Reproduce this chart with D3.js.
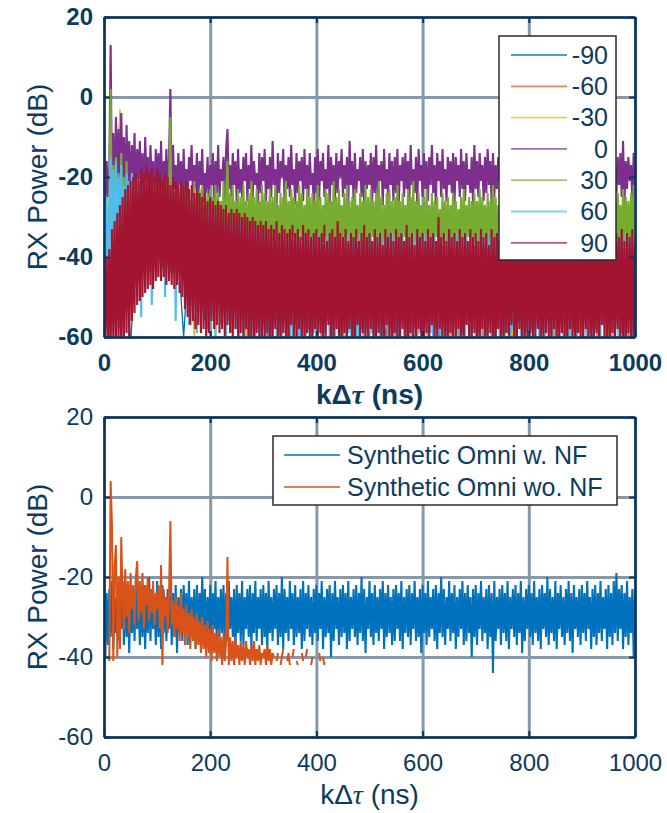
<!DOCTYPE html>
<html><head><meta charset="utf-8">
<script src="https://cdn.jsdelivr.net/npm/d3@7"></script>
<style>body{margin:0;background:#fff}svg{display:block}</style>
</head><body>
<svg id="chart" width="667" height="813"></svg>
<script>
// ---------- DATA ----------
const xTicks = [0, 200, 400, 600, 800, 1000];
const yTicks = [-60, -40, -20, 0, 20];
const topNames = ["-90", "-60", "-30", "0", "30", "60", "90"];
const botNames = ["Synthetic Omni w. NF", "Synthetic Omni wo. NF"];

// sample spacing (ns): dense series every 2.5 ns, weak series every 10 ns
const fineStep = 2.5, coarseStep = 10;

const s_m90 = [-38,-60,-35,-58,-37,-62,-40,-44,-38,-42, -39,-41,-37,-43,-40,-60,-38,-47,-39,-56,
 -37,-52,-40,-58,-38,-55,-41,-60,-39,-57, -40,-62,-38,-59,-41,-61,-39,-58,-40,-63,
 -38,-60,-41,-62,-39,-59,-40,-61,-38,-64, -41,-60,-39,-62,-40,-58,-38,-63,-41,-59,
 -39,-61,-40,-64,-38,-60,-41,-62,-39,-58, -40,-63,-38,-61,-41,-59,-39,-62,-40,-60,
 -38,-64,-41,-60,-39,-62,-40,-58,-38,-61, -41,-63,-39,-60,-40,-62,-38,-59,-41,-61, -40];
const s_m60 = [-36,-56,-40,-4,-39,-52,-37,-41,-40,-43, -38,-40,-41,-44,-39,-42,-40,-58,-38,-50,
 -41,-55,-39,-59,-40,-56,-38,-61,-41,-58, -39,-60,-40,-63,-38,-59,-41,-62,-39,-60,
 -40,-61,-38,-64,-41,-60,-39,-62,-40,-59, -38,-63,-41,-60,-39,-61,-40,-64,-38,-60,
 -41,-62,-39,-58,-40,-63,-38,-61,-41,-60, -39,-64,-40,-59,-38,-62,-41,-60,-39,-63,
 -40,-61,-38,-59,-41,-64,-39,-60,-40,-62, -38,-58,-41,-63,-39,-61,-40,-60,-38,-64, -41];
const s_m30 = [-37,-61,-36,-3,-38,-45,-40,-42,-37,-44, -39,-41,-38,-43,-40,-44,-37,-60,-39,-46,
 -38,-60,-40,-53,-39,-58,-41,-62,-38,-56, -40,-59,-39,-63,-41,-60,-38,-62,-40,-58,
 -39,-64,-41,-61,-38,-59,-40,-63,-39,-60, -41,-62,-38,-58,-40,-64,-39,-61,-41,-60,
 -38,-63,-40,-59,-39,-62,-41,-60,-38,-64, -40,-61,-39,-58,-41,-63,-38,-60,-40,-62,
 -39,-59,-41,-64,-38,-61,-40,-60,-39,-63, -41,-62,-38,-59,-40,-61,-39,-64,-41,-60, -38];

const s_0 = [
 -14,-27,-16,-25,-18,13,-24,-9,-26,-5,-22,-8,-25,-4,-21,-10,-26,-7,-23,-11,
 -25,-12,-22,-9,-26,-13,-20,-11,-24,-14,-27,-10,-21,-15,-25,-12,-23,-16,-26,-13,
 -22,-14,-25,-11,-27,-16,-21,-13,-24,-15,2,-26,-12,-23,-17,-25,-14,-22,-16,-27,
 -13,-24,-18,-26,-15,-21,-12,-25,-17,-23,-14,-27,-16,-22,-13,-26,-19,-24,-15,-25,
 -17,-22,-14,-27,-16,-24,-12,-25,-18,-21,-15,-26,-13,-8,-23,-17,-25,-14,-22,-16,
 -27,-13,-24,-18,-25,-15,-21,-14,-26,-17,-23,-12,-25,-16,-22,-19,-27,-14,-24,-15,
 -21,-13,-26,-17,-23,-15,-25,-11,-22,-18,-27,-14,-24,-16,-20,-13,-26,-17,-23,-15,
 -25,-12,-22,-18,-27,-14,-24,-16,-21,-15,-26,-13,-23,-17,-25,-14,-22,-19,-27,-15,
 -24,-13,-26,-16,-21,-14,-25,-18,-23,-12,-27,-15,-22,-17,-26,-14,-24,-16,-20,-13,
 -25,-17,-23,-15,-27,-11,-22,-16,-26,-14,-24,-18,-21,-15,-25,-13,-27,-16,-23,-17,
 -22,-14,-26,-15,-24,-12,-25,-17,-21,-16,-27,-13,-23,-18,-25,-14,-22,-16,-26,-15,
 -24,-13,-27,-17,-21,-15,-25,-14,-23,-16,-26,-12,-22,-18,-24,-15,-27,-13,-21,-17,
 -25,-14,-23,-16,-26,-15,-22,-12,-24,-17,-27,-14,-21,-16,-25,-13,-23,-18,-26,-15,
 -22,-16,-24,-14,-27,-15,-21,-17,-25,-13,-23,-16,-26,-14,-22,-18,-24,-15,-27,-12,
 -23,-16,-25,-14,-21,-17,-26,-15,-24,-13,-22,-16,-27,-14,-25,-17,-23,-15,-21,-13,
 -26,-16,-24,-14,-22,-18,-25,-15,-27,-13,-23,-16,-21,-14,-26,-17,-24,-15,-22,-13,
 -25,-16,-27,-14,-23,-17,-21,-15,-26,-12,-24,-16,-22,-14,-25,-18,-27,-15,-23,-14,
 -21,-16,-26,-13,-24,-17,-22,-15,-25,-14,-27,-16,-23,-12,-21,-17,-26,-15,-24,-14,
 -22,-16,-25,-13,-27,-17,-23,-15,-21,-14,-26,-16,-24,-12,-22,-17,-25,-15,-27,-14,
 -23,-16,-21,-13,-26,-17,-24,-15,-22,-14,-25,-11,-27,-16,-23,-15,-21,-17,-26,-14,
 -24];
const s_30 = [
 -27,-40,-30,-38,-28,2,-39,-17,-36,-15,-38,-19,-35,-14,-39,-20,-37,-16,-40,-21,
 -36,-23,-39,-22,-37,-25,-40,-21,-35,-24,-38,-22,-36,-26,-39,-23,-37,-21,-40,-24,
 -36,-22,-38,-25,-35,-23,-39,-21,-37,-24,-5,-40,-22,-36,-26,-38,-23,-35,-25,-39,
 -22,-37,-24,-40,-23,-36,-26,-38,-21,-35,-25,-39,-23,-37,-22,-40,-26,-36,-24,-38,
 -23,-35,-25,-39,-22,-37,-24,-36,-26,-40,-21,-38,-25,-16,-35,-24,-39,-22,-37,-26,
 -36,-23,-40,-25,-38,-22,-35,-26,-39,-24,-37,-21,-36,-25,-40,-23,-38,-26,-35,-22,
 -39,-24,-37,-26,-36,-23,-40,-25,-38,-22,-35,-27,-39,-24,-37,-25,-36,-21,-40,-26,
 -38,-23,-35,-25,-39,-26,-37,-22,-36,-24,-40,-27,-38,-23,-35,-25,-39,-24,-37,-26,
 -36,-22,-40,-25,-38,-27,-35,-23,-39,-24,-37,-26,-36,-21,-40,-25,-38,-23,-35,-27,
 -39,-24,-37,-22,-36,-26,-40,-25,-38,-23,-35,-27,-39,-24,-37,-26,-36,-22,-40,-25,
 -38,-23,-35,-26,-39,-24,-37,-21,-36,-25,-40,-27,-38,-24,-35,-23,-39,-26,-37,-25,
 -36,-22,-40,-26,-38,-24,-35,-27,-39,-23,-37,-25,-36,-21,-40,-26,-38,-24,-35,-27,
 -39,-25,-37,-23,-36,-27,-40,-24,-38,-26,-35,-25,-39,-28,-37,-24,-36,-26,-40,-25,
 -38,-27,-35,-24,-39,-26,-37,-28,-36,-25,-40,-23,-38,-27,-35,-25,-39,-26,-37,-24,
 -36,-26,-40,-23,-38,-25,-35,-27,-39,-24,-37,-26,-36,-22,-40,-25,-38,-27,-35,-24,
 -39,-25,-37,-23,-36,-26,-40,-24,-38,-27,-35,-25,-39,-23,-37,-26,-36,-24,-40,-25,
 -38,-22,-35,-26,-39,-24,-37,-25,-36,-27,-40,-23,-38,-25,-35,-26,-39,-24,-37,-21,
 -36,-25,-40,-26,-38,-23,-35,-27,-39,-24,-37,-26,-36,-25,-40,-23,-38,-26,-35,-24,
 -39,-27,-37,-23,-36,-25,-40,-26,-38,-24,-35,-22,-39,-26,-37,-25,-36,-27,-40,-24,
 -38,-23,-35,-26,-39,-25,-37,-24,-36,-27,-40,-23,-38,-25,-35,-26,-39,-24,-37,-22,
 -36];
const s_60 = [
 -28,-46,-25,-50,-30,-15,-52,-18,-55,-16,-48,-20,-57,-17,-50,-22,-54,-19,-47,-21,
 -44,-19,-42,-23,-45,-21,-41,-24,-55,-22,-43,-25,-40,-21,-44,-23,-52,-24,-42,-22,
 -45,-25,-41,-23,-43,-26,-50,-24,-40,-25,-44,-27,-42,-24,-56,-26,-43,-25,-41,-27,
 -44,-26,-46,-28,-57,-27,-45,-29,-48,-28,-59,-27,-47,-30,-53,-29,-46,-31,-58,-28,
 -50,-30,-55,-29,-60,-31,-52,-30,-57,-32,-54,-31,-61,-30,-56,-32,-59,-31,-53,-33,
 -58,-32,-62,-31,-55,-33,-60,-32,-57,-34,-63,-33,-56,-32,-61,-34,-58,-33,-62,-35,
 -57,-34,-61,-35,-59,-33,-63,-36,-56,-34,-60,-35,-58,-37,-62,-34,-57,-36,-64,-35,
 -59,-33,-61,-36,-57,-35,-63,-34,-60,-37,-56,-35,-62,-34,-58,-36,-64,-35,-59,-37,
 -61,-34,-57,-36,-63,-35,-59,-38,-56,-34,-62,-36,-60,-35,-64,-37,-58,-34,-61,-36,
 -57,-35,-63,-37,-59,-34,-62,-36,-56,-35,-60,-38,-64,-34,-58,-36,-61,-35,-57,-37,
 -63,-34,-59,-36,-62,-35,-57,-37,-60,-34,-64,-36,-58,-35,-61,-38,-56,-34,-62,-36,
 -59,-35,-64,-37,-57,-34,-61,-36,-58,-35,-63,-37,-60,-34,-56,-36,-62,-35,-59,-38,
 -61,-34,-57,-36,-64,-35,-59,-37,-62,-34,-58,-36,-60,-35,-63,-37,-57,-34,-61,-36,
 -58,-35,-62,-37,-56,-34,-60,-36,-64,-35,-59,-38,-61,-34,-57,-36,-63,-35,-58,-37,
 -62,-34,-59,-36,-57,-35,-63,-37,-60,-34,-56,-36,-61,-35,-64,-38,-58,-34,-62,-36,
 -57,-35,-61,-37,-59,-34,-64,-36,-58,-35,-62,-37,-56,-34,-60,-36,-63,-35,-59,-38,
 -63,-34,-58,-36,-61,-35,-57,-37,-64,-34,-59,-36,-62,-35,-56,-37,-60,-34,-63,-36,
 -59,-35,-62,-37,-57,-34,-61,-36,-58,-35,-64,-38,-60,-34,-57,-36,-62,-35,-59,-37,
 -61,-34,-56,-36,-63,-35,-59,-37,-62,-34,-58,-36,-64,-35,-60,-37,-57,-34,-61,-36,
 -58,-35,-63,-37,-60,-34,-57,-36,-62,-35,-59,-38,-64,-34,-61,-36,-56,-35,-62,-37,
 -60];
const s_90 = [
 -39,-62,-40,-60,-38,-64,-33,-61,-31,-63,-29,-60,-27,-64,-25,-62,-23,-59,-22,-61,
 -21,-56,-20,-54,-19,-52,-20,-51,-18,-50,-19,-49,-17,-48,-19,-47,-18,-48,-20,-46,
 -18,-45,-19,-46,-21,-45,-19,-47,-20,-46,-22,-47,-20,-48,-21,-47,-22,-49,-21,-50,
 -22,-53,-21,-55,-23,-57,-22,-56,-24,-58,-23,-57,-24,-59,-25,-58,-24,-60,-26,-59,
 -25,-56,-26,-58,-27,-57,-26,-59,-27,-58,-28,-60,-27,-57,-29,-59,-28,-61,-29,-58,
 -28,-60,-29,-59,-30,-62,-29,-58,-30,-61,-31,-60,-30,-63,-31,-59,-32,-61,-31,-60,
 -32,-62,-31,-59,-33,-61,-32,-63,-33,-58,-31,-60,-34,-62,-32,-59,-33,-61,-34,-63,
 -33,-57,-32,-60,-34,-62,-33,-58,-35,-61,-32,-63,-34,-59,-33,-60,-35,-62,-34,-58,
 -33,-61,-35,-59,-34,-63,-32,-60,-36,-57,-34,-62,-33,-60,-35,-58,-31,-61,-34,-63,
 -35,-59,-33,-62,-36,-58,-34,-60,-35,-63,-33,-57,-36,-61,-34,-59,-32,-62,-35,-60,
 -34,-58,-36,-61,-33,-63,-35,-59,-34,-60,-37,-62,-33,-57,-35,-61,-34,-64,-36,-59,
 -33,-60,-35,-62,-34,-58,-36,-61,-32,-63,-35,-59,-34,-60,-37,-62,-33,-58,-35,-61,
 -34,-63,-36,-59,-33,-61,-35,-57,-34,-62,-36,-60,-30,-58,-35,-63,-34,-60,-36,-61,
 -33,-59,-35,-62,-34,-60,-36,-58,-33,-63,-35,-61,-34,-57,-36,-60,-33,-62,-35,-59,
 -34,-61,-36,-63,-33,-58,-35,-60,-34,-62,-37,-59,-33,-61,-35,-64,-34,-58,-36,-60,
 -33,-62,-35,-59,-34,-61,-36,-57,-33,-60,-35,-63,-34,-58,-36,-62,-31,-60,-35,-61,
 -34,-59,-36,-62,-33,-60,-35,-58,-34,-63,-36,-61,-33,-59,-35,-60,-34,-62,-37,-58,
 -35,-61,-33,-63,-36,-59,-34,-60,-35,-62,-33,-58,-36,-61,-34,-64,-35,-59,-33,-60,
 -36,-62,-34,-58,-35,-61,-33,-60,-36,-63,-34,-59,-35,-62,-33,-57,-36,-61,-34,-60,
 -35,-63,-33,-59,-36,-61,-34,-58,-35,-62,-33,-60,-36,-64,-34,-59,-35,-61,-33,-62,
 -35];

// bottom panel
const omniNFStart = 0;
const omniNF = [
 -22,-40,-24,-37,-23,-35,-21,-38,-25,-34,-22,-36,-24,-33,-21,-37,-23,-35,-25,-39,
 -22,-34,-24,-36,-21,-33,-25,-37,-23,-35,-22,-38,-24,-34,-20,-36,-23,-33,-25,-37,
 -21,-35,-24,-38,-22,-34,-25,-36,-23,-33,-21,-37,-24,-35,-22,-39,-25,-34,-23,-36,
 -22,-33,-24,-37,-21,-35,-25,-34,-23,-38,-22,-36,-24,-33,-20,-35,-23,-37,-25,-34,
 -22,-36,-24,-33,-21,-38,-25,-35,-23,-34,-22,-37,-24,-36,-21,-33,-25,-35,-23,-40,
 -22,-34,-24,-36,-21,-37,-25,-33,-23,-35,-22,-38,-24,-34,-21,-36,-25,-33,-23,-37,
 -22,-35,-24,-39,-21,-34,-25,-36,-23,-33,-22,-37,-24,-35,-20,-38,-23,-34,-25,-36,
 -21,-33,-24,-37,-22,-35,-25,-34,-23,-38,-21,-36,-24,-33,-22,-35,-25,-37,-23,-34,
 -22,-36,-24,-33,-21,-38,-25,-35,-23,-34,-22,-40,-24,-36,-21,-33,-25,-37,-23,-35,
 -22,-34,-24,-38,-21,-36,-25,-33,-23,-35,-22,-37,-24,-34,-20,-36,-23,-39,-25,-33,
 -21,-35,-24,-37,-22,-34,-25,-36,-23,-33,-21,-38,-24,-35,-22,-34,-25,-37,-23,-36,
 -22,-33,-24,-36,-21,-38,-25,-34,-23,-35,-22,-37,-24,-33,-21,-36,-25,-35,-23,-39,
 -22,-34,-24,-37,-21,-35,-25,-33,-23,-36,-22,-38,-24,-34,-20,-35,-23,-37,-25,-33,
 -21,-36,-24,-34,-22,-38,-25,-35,-23,-33,-21,-37,-24,-36,-22,-34,-25,-40,-23,-35,
 -22,-37,-24,-33,-21,-36,-25,-34,-23,-38,-22,-35,-24,-44,-21,-36,-25,-33,-23,-37,
 -22,-34,-24,-36,-21,-38,-25,-33,-23,-35,-22,-37,-24,-34,-21,-39,-25,-36,-23,-33,
 -22,-35,-24,-37,-21,-34,-25,-36,-23,-38,-22,-33,-24,-35,-20,-37,-23,-34,-25,-36,
 -21,-38,-24,-33,-22,-35,-25,-37,-23,-34,-21,-36,-24,-39,-22,-33,-25,-35,-23,-37,
 -22,-34,-24,-36,-21,-33,-25,-38,-23,-35,-22,-37,-24,-34,-21,-36,-25,-33,-23,-38,
 -22,-35,-24,-37,-21,-34,-19,-36,-23,-33,-22,-38,-24,-35,-21,-37,-25,-34,-23,-40,
 -23];
const omniNoNFStart = 10;
const omniNoNF = [
 -41,4,-7,-41,-17,-12,-40,-20,-38,-10,-25,-33,-18,-30,-21,-34,-19,-28,-22,-32,
 -20,-16,-31,-21,-29,-19,-33,-22,-27,-20,-31,-23,-29,-21,-32,-24,-28,-22,-33,-17,
 -42,-23,-30,-25,-34,-24,-6,-32,-26,-35,-25,-33,-27,-36,-24,-34,-28,-37,-27,-35,
 -29,-38,-28,-36,-30,-38,-29,-37,-31,-39,-30,-38,-32,-40,-31,-39,-33,-41,-32,-39,
 -34,-41,-33,-40,-35,-42,-34,-41,-36,-15,-42,-35,-41,-36,-42,-35,-40,-37,-42,-36,
 -41,-37,-42,-36,-40,-38,-42,-37,-41,-36,-42,-38,-41,-37,-42,-39,-40,-38,-42,-37,
 -41,-38,-42,-39,-40,null,-41,-39,null,-42,-40,-38,null,null,-41,-39,-42,null,-40,-38,
 null,-41,-42,null,null,-39,-41,null,-40,-38,null,null,-42,-40,null,-41,null,null,-39,-41,
 null,-40,-42,null,-41];

// ---------- DRAW ----------
const svg = d3.select("#chart");
const TXT = "#0d3a5f", AX = "#0a3560", GRID = "#8599ab";
const FONT = "'Liberation Sans', Arial, Helvetica, sans-serif";
const topColors = ["#0072BD","#D95319","#EDB120","#7E2F8E","#77AC30","#4DBEEE","#A2142F"];
const botColors = ["#0072BD","#D95319"];
const L = 104, R = 635;
const x = d3.scaleLinear().domain([0, 1000]).range([L, R]);
const fmt = d => String(d);

function toPts(vals, start, step) {
  return vals.map((v, i) => [start + i * step, v]);
}

function panel(id, top, bold, series) {
  const bottom = top + 320;
  const y = d3.scaleLinear().domain([-60, 20]).range([bottom, top]);
  const g = svg.append("g");
  const fw = bold ? "bold" : "normal";
  g.append("g").attr("transform", `translate(0,${bottom})`)
    .call(d3.axisBottom(x).tickValues(xTicks).tickSize(-(bottom - top)).tickFormat(""))
    .call(a => { a.select(".domain").remove(); a.selectAll("line").attr("stroke", GRID).attr("stroke-width", 3); });
  g.append("g").attr("transform", `translate(${L},0)`)
    .call(d3.axisLeft(y).tickValues(yTicks).tickSize(-(R - L)).tickFormat(""))
    .call(a => { a.select(".domain").remove(); a.selectAll("line").attr("stroke", GRID).attr("stroke-width", 3); });
  svg.append("clipPath").attr("id", id).append("rect")
    .attr("x", L).attr("y", top).attr("width", R - L).attr("height", bottom - top);
  const dg = g.append("g").attr("clip-path", `url(#${id})`);
  const line = d3.line().defined(d => d[1] !== null).x(d => x(d[0])).y(d => y(d[1]));
  series.forEach(s => {
    dg.append("path").datum(s.pts).attr("d", line)
      .attr("fill", "none").attr("stroke", s.color).attr("stroke-width", s.w)
      .attr("stroke-linejoin", "miter").attr("stroke-miterlimit", 1.5);
  });
  const styleAx = a => {
    a.select(".domain").attr("stroke", AX).attr("stroke-width", 2.5);
    a.selectAll(".tick line").attr("stroke", AX).attr("stroke-width", 2);
    a.selectAll("text").attr("fill", TXT).attr("font-size", 24).attr("font-weight", fw).attr("font-family", FONT);
  };
  g.append("g").attr("transform", `translate(0,${bottom})`)
    .call(d3.axisBottom(x).tickValues(xTicks).tickSizeInner(-6).tickSizeOuter(0).tickPadding(17).tickFormat(fmt))
    .call(styleAx);
  g.append("g").attr("transform", `translate(0,${top})`)
    .call(d3.axisTop(x).tickValues(xTicks).tickSizeInner(-6).tickSizeOuter(0).tickFormat(""))
    .call(styleAx);
  g.append("g").attr("transform", `translate(${L},0)`)
    .call(d3.axisLeft(y).tickValues(yTicks).tickSizeInner(-6).tickSizeOuter(0).tickPadding(11).tickFormat(fmt))
    .call(styleAx);
  g.append("g").attr("transform", `translate(${R},0)`)
    .call(d3.axisRight(y).tickValues(yTicks).tickSizeInner(-6).tickSizeOuter(0).tickFormat(""))
    .call(styleAx);
  g.append("text").attr("transform", `translate(47,${(top + bottom) / 2}) rotate(-90)`)
    .attr("text-anchor", "middle").attr("fill", TXT).attr("font-family", FONT)
    .attr("font-size", 28).text("RX Power (dB)");
  const xl = g.append("text").attr("x", (L + R) / 2).attr("y", bottom + 67)
    .attr("text-anchor", "middle").attr("fill", TXT).attr("font-family", FONT)
    .attr("font-size", 28).attr("font-weight", fw);
  xl.append("tspan").text("kΔ");
  xl.append("tspan").attr("font-style", "italic").attr("font-family", "'Liberation Serif', 'DejaVu Serif', serif").text("τ");
  xl.append("tspan").text(" (ns)");
  return { g, y };
}

const topSeries = [
  [s_m90, coarseStep], [s_m60, coarseStep], [s_m30, coarseStep],
  [s_0, fineStep], [s_30, fineStep], [s_60, fineStep], [s_90, fineStep]
].map(([v, st], i) => ({ pts: toPts(v, 0, st), color: topColors[i], w: st === fineStep ? 2.1 : 1.3 }));
const P1 = panel("clipTop", 17, true, topSeries);

const botSeries = [
  { pts: toPts(omniNF, omniNFStart, fineStep), color: botColors[0], w: 2.1 },
  { pts: toPts(omniNoNF, omniNoNFStart, fineStep), color: botColors[1], w: 2 }
];
const P2 = panel("clipBot", 417, false, botSeries);

const lg1 = P1.g.append("g");
lg1.append("rect").attr("x", 499).attr("y", 36).attr("width", 117).attr("height", 224)
  .attr("fill", "#fff").attr("stroke", "#2b2b2b").attr("stroke-width", 1.5);
topNames.forEach((n, i) => {
  const yy = 55 + i * 31.3;
  lg1.append("line").attr("x1", 511).attr("x2", 567).attr("y1", yy).attr("y2", yy)
    .attr("stroke", topColors[i]).attr("stroke-width", 1.8).attr("stroke-opacity", 0.7);
  lg1.append("text").attr("x", 608).attr("y", yy).attr("dy", "0.35em").attr("text-anchor", "end")
    .attr("fill", TXT).attr("font-family", FONT).attr("font-size", 25).text(n);
});
const lg2 = P2.g.append("g");
lg2.append("rect").attr("x", 273).attr("y", 436).attr("width", 344).attr("height", 69)
  .attr("fill", "#fff").attr("stroke", "#2b2b2b").attr("stroke-width", 1.5);
botNames.forEach((n, i) => {
  const yy = 455 + i * 32;
  lg2.append("line").attr("x1", 284).attr("x2", 340).attr("y1", yy).attr("y2", yy)
    .attr("stroke", botColors[i]).attr("stroke-width", 1.8).attr("stroke-opacity", 0.75);
  lg2.append("text").attr("x", 347).attr("y", yy).attr("dy", "0.35em")
    .attr("fill", TXT).attr("font-family", FONT).attr("font-size", 25).text(n);
});
</script>
</body></html>
